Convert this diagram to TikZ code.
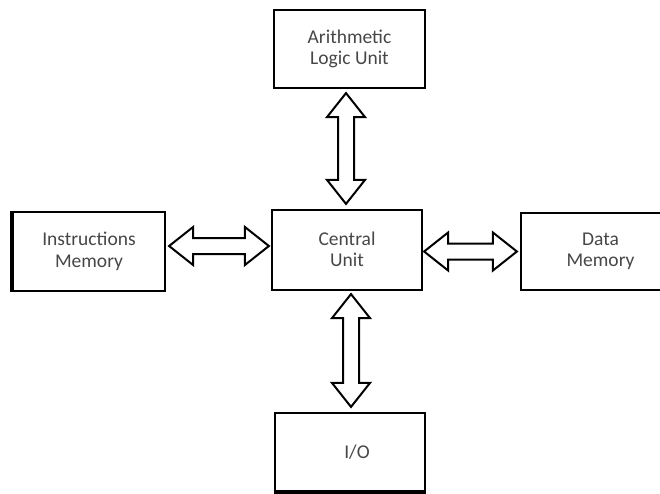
\documentclass[tikz,border=0pt]{standalone}
\usepackage{fontspec}
\setmainfont{Carlito}
\usetikzlibrary{calc}
\tikzset{
  blk/.style={draw=black, line width=2.2pt, rectangle, inner sep=0pt, align=center,
    text=black!72, font=\fontsize{19.5}{21.5}\selectfont},
  dbl/.style={draw=black, line width=2pt, fill=white, line join=miter}
}
\newcommand\dblarrow[2]{%
  \draw[dbl] (#1)
    -- ($(#1)!24pt!(#2)!19pt!90:(#2)$)
    -- ($(#1)!24pt!(#2)!8pt!90:(#2)$)
    -- ($(#2)!24pt!(#1)!8pt!-90:(#1)$)
    -- ($(#2)!24pt!(#1)!19pt!-90:(#1)$)
    -- (#2)
    -- ($(#2)!24pt!(#1)!19pt!90:(#1)$)
    -- ($(#2)!24pt!(#1)!8pt!90:(#1)$)
    -- ($(#1)!24pt!(#2)!8pt!-90:(#2)$)
    -- ($(#1)!24pt!(#2)!19pt!-90:(#2)$)
    -- cycle;}
\begin{document}
\begin{tikzpicture}[x=1pt, y=-1pt]
\useasboundingbox (0,0) rectangle (660,493);
\fill[white] (0,0) rectangle (660,493);
\clip (0,0) rectangle (660,493);
\node[blk, minimum width=151pt, minimum height=78pt] (alu) at (349.5,49) {\raisebox{2pt}{Arithmetic}\\\raisebox{2pt}{Logic Unit}};
\node[blk, minimum width=150pt, minimum height=80pt] (cu) at (347,250) {\raisebox{2pt}{Central}\\\raisebox{2pt}{Unit}};
\node[blk, minimum width=152pt, minimum height=79pt] (im) at (89,251.5) {\raisebox{3pt}{Instructions}\\\raisebox{3pt}{Memory}};
\node[blk, minimum width=169pt, minimum height=77pt] (dm) at (605.5,251.5) {\hspace*{-10pt}\raisebox{2pt}{Data}\\\hspace*{-10pt}\raisebox{2pt}{Memory}};
\node[blk, minimum width=150pt, minimum height=78pt] (io) at (350,452) {\hspace*{14pt}I/O};
\draw[line width=4pt] (im.north west) -- (im.south west);
\draw[line width=4pt] (io.south west) -- (io.south east);
\coordinate (a1) at ([xshift=-3.5pt,yshift=-4pt]alu.south);
\coordinate (a2) at ([xshift=-1pt,yshift=5pt]cu.north);
\coordinate (b1) at ([xshift=3pt,yshift=5.5pt]im.east);
\coordinate (b2) at ([xshift=-2pt,yshift=4pt]cu.west);
\coordinate (c1) at ([xshift=1pt,yshift=-1.5pt]cu.east);
\coordinate (c2) at ([xshift=-3pt]dm.west);
\coordinate (d1) at ([xshift=4pt,yshift=-3pt]cu.south);
\coordinate (d2) at ([xshift=1pt,yshift=5pt]io.north);
\dblarrow{a1}{a2}
\dblarrow{b1}{b2}
\dblarrow{c1}{c2}
\dblarrow{d1}{d2}
\end{tikzpicture}
\end{document}
